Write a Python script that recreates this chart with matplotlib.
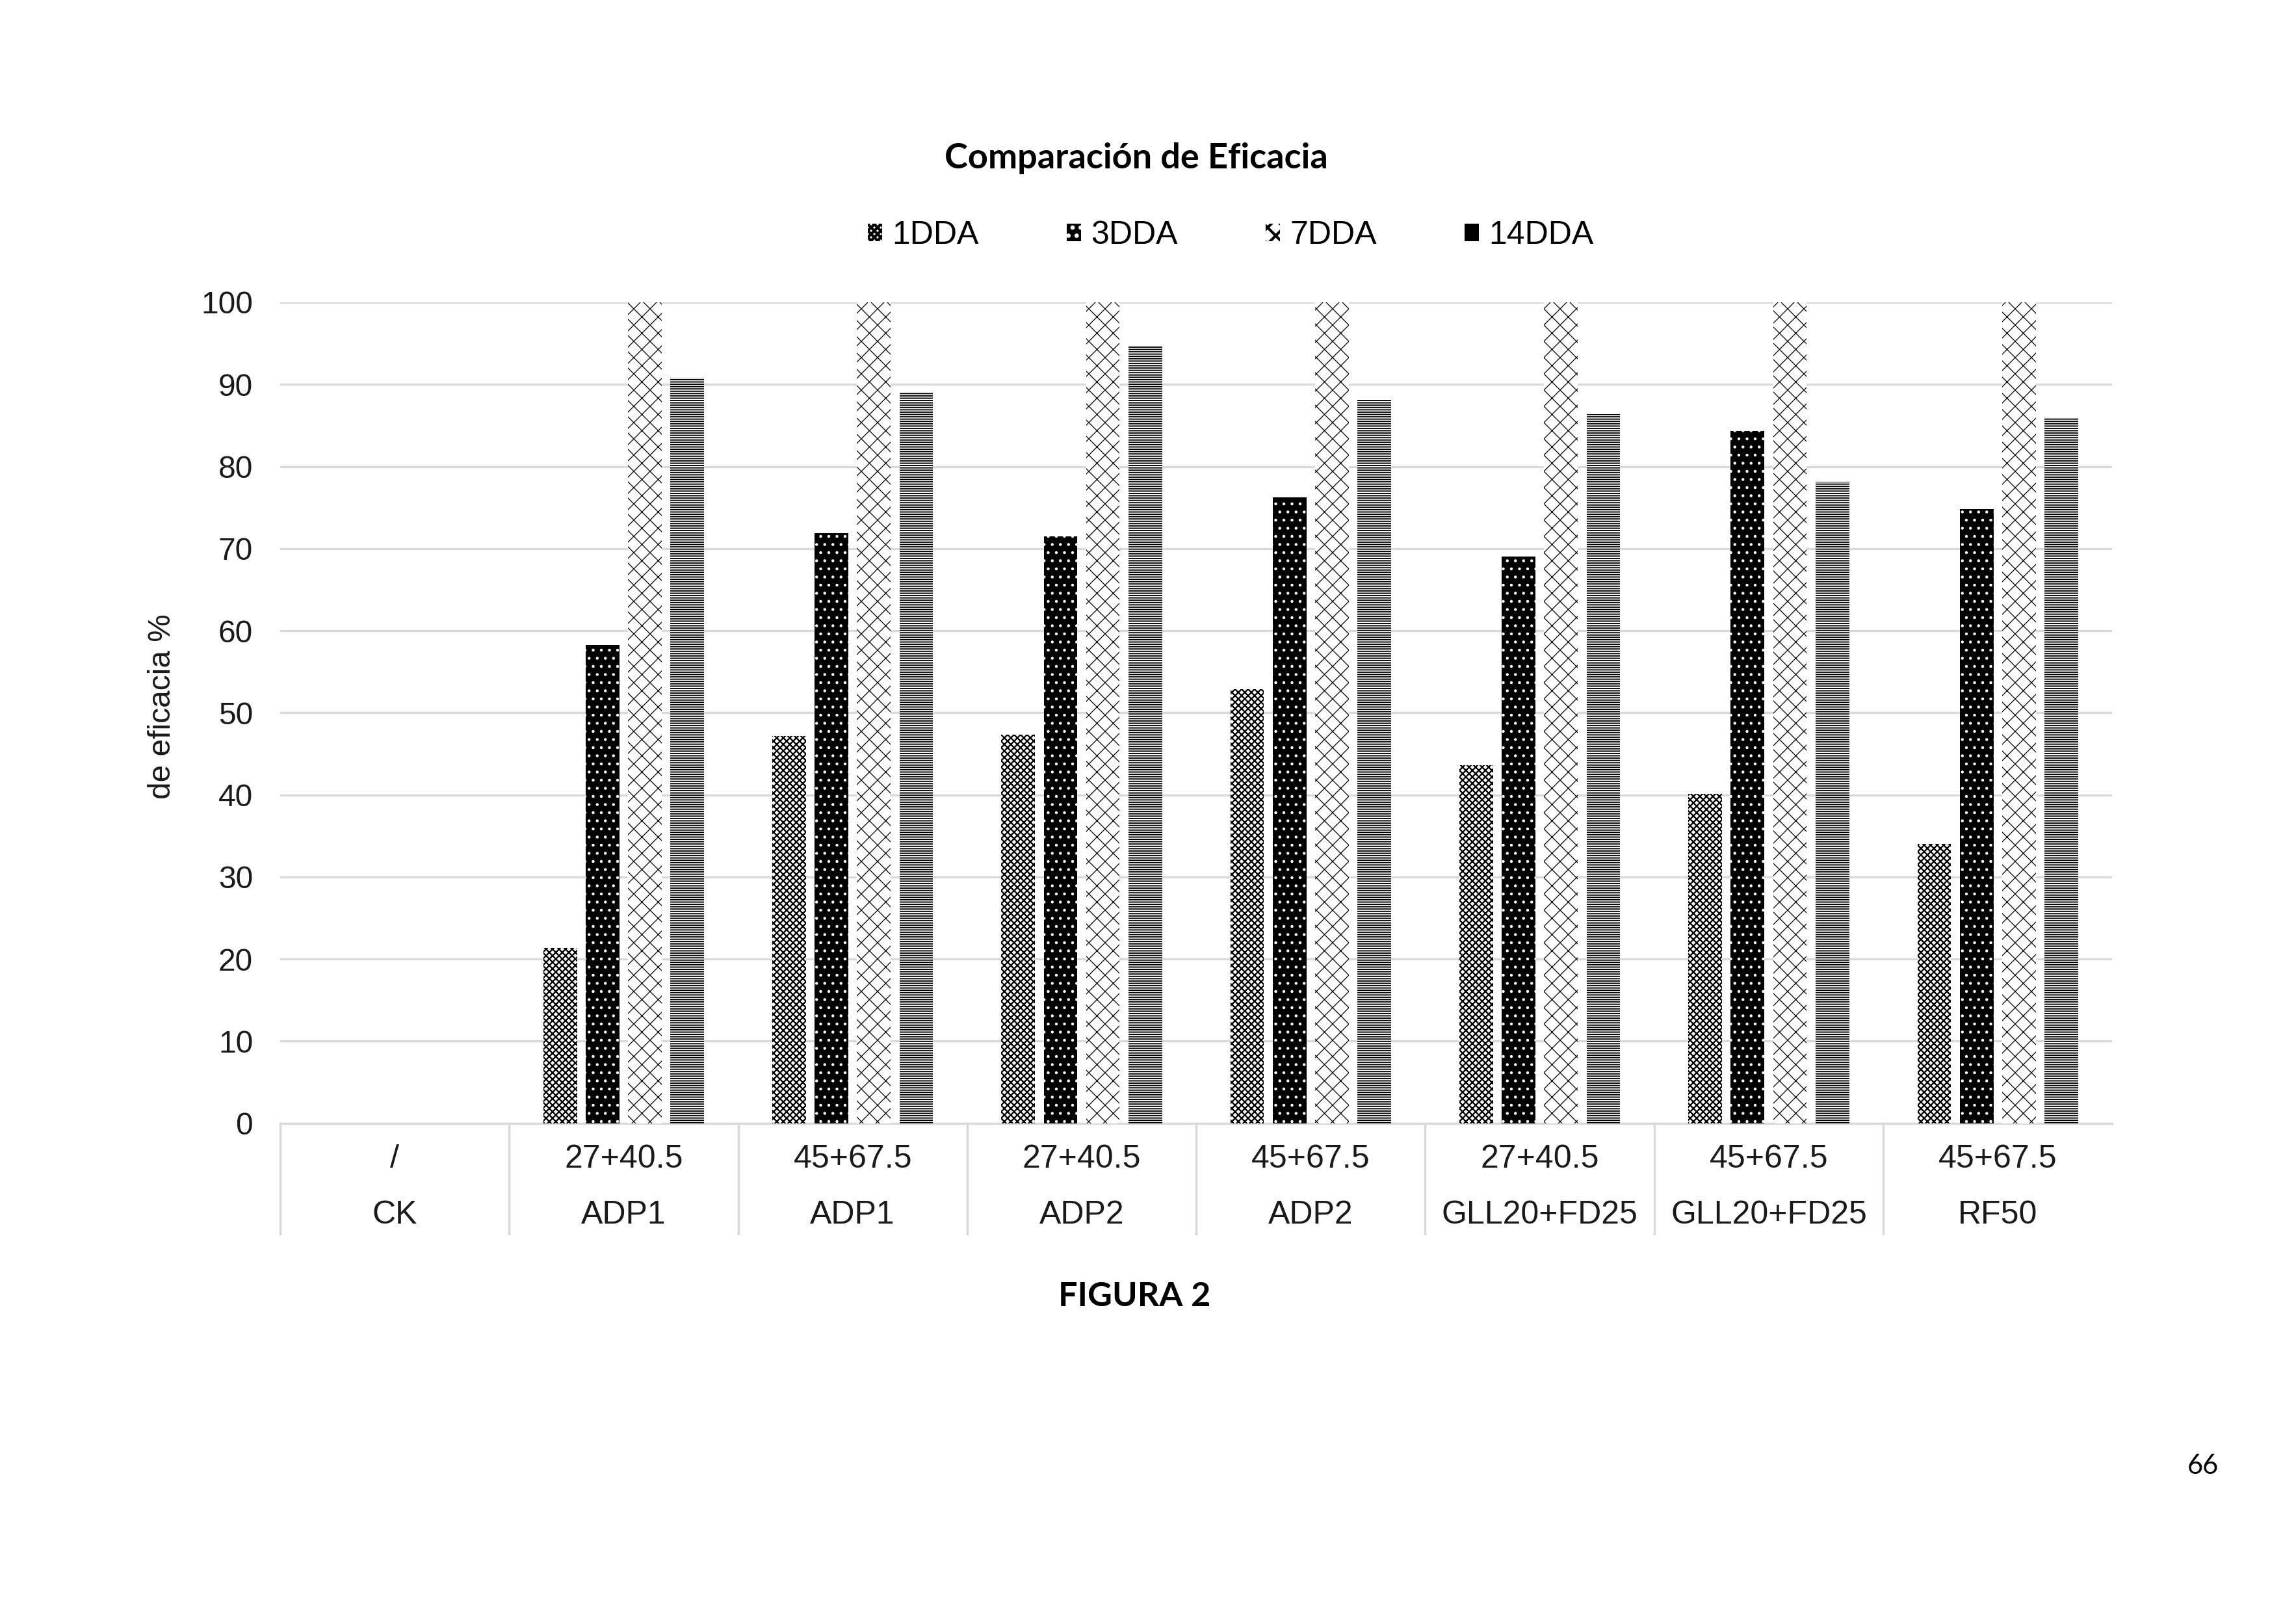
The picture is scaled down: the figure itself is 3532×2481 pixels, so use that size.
import matplotlib.pyplot as plt
import matplotlib.transforms as mtransforms
import numpy as np

# datos (eficacia %)
productos = ["CK", "ADP1", "ADP1", "ADP2", "ADP2", "GLL20+FD25", "GLL20+FD25", "RF50"]
dosis = ["/", "27+40.5", "45+67.5", "27+40.5", "45+67.5", "27+40.5", "45+67.5", "45+67.5"]
series = ["1DDA", "3DDA", "7DDA", "14DDA"]
dda_1 = [0, 21.4, 47.2, 47.3, 52.9, 43.6, 40.1, 34.0]
dda_3 = [0, 58.3, 71.9, 71.5, 76.2, 69.0, 84.3, 74.8]
dda_7 = [0, 100, 100, 100, 100, 100, 100, 100]
dda_14 = [0, 90.8, 89.1, 94.6, 88.1, 86.4, 78.1, 86.0]
valores = [dda_1, dda_3, dda_7, dda_14]

# estilo de cada serie: (relleno, color de trama, trama, grosor de trama)
estilos = [
    ("white", "black", "x" * 10, 0.55),
    ("black", "white", "....", 0.45),
    ("white", "black", "xxxx", 0.3),
    ("white", "black", "-" * 14, 0.45),
]

grid_col = "#D9D9D9"
txt_col = "#1a1a1a"
arial = ["Liberation Sans", "DejaVu Sans"]

fig = plt.figure(figsize=(3532 / 300, 2481 / 300), dpi=300)
ax = fig.add_axes([0.122, 0.3036, 0.798, 0.509])

x = np.arange(len(productos))
paso = 0.185
ancho = 0.147
barras = []
for k, (vals, (fc, hc, hatch, hlw)) in enumerate(zip(valores, estilos)):
    with plt.rc_context({"hatch.linewidth": hlw}):
        b = ax.bar(x + (k - 1.5) * paso, vals, width=ancho, color=fc,
                   edgecolor=hc, hatch=hatch, linewidth=0, label=series[k], zorder=3)
    barras.append(b)

ax.set_xlim(-0.5, len(productos) - 0.5)
ax.set_ylim(0, 100)
ax.set_yticks(np.arange(0, 101, 10))
ax.yaxis.grid(True, color=grid_col, linewidth=0.8, zorder=0)
ax.set_axisbelow(True)
for s in ["top", "right", "left"]:
    ax.spines[s].set_visible(False)
ax.spines["bottom"].set_color(grid_col)
ax.spines["bottom"].set_linewidth(0.8)
ax.set_xticks([])
ax.tick_params(axis="y", length=0, pad=10, labelsize=11.5, labelcolor=txt_col)
for lab in ax.get_yticklabels():
    lab.set_fontfamily(arial)

# eje de categorias en dos niveles
trans = mtransforms.blended_transform_factory(ax.transData, ax.transAxes)
for i in range(len(productos)):
    ax.text(x[i], -0.044, dosis[i], transform=trans, ha="center", va="center",
            fontsize=12, family=arial, color=txt_col)
    ax.text(x[i], -0.112, productos[i], transform=trans, ha="center", va="center",
            fontsize=12, family=arial, color=txt_col)
for i in range(len(productos)):
    ax.plot([i - 0.5, i - 0.5], [0, -0.135], transform=trans, color=grid_col,
            linewidth=0.8, clip_on=False)

fig.text(0.0705, 0.562, "de eficacia %", rotation=90, ha="center", va="center",
         fontsize=11.5, family=arial, color=txt_col)

fig.text(0.495, 0.902, "Comparación de Eficacia", ha="center", va="center",
         fontsize=13, fontweight="bold", family=["Lato", "DejaVu Sans"])

leg = fig.legend(handles=barras, labels=series, loc="center", bbox_to_anchor=(0.536, 0.854),
                 ncol=4, frameon=False, handlelength=0.45, handleheight=0.45,
                 handletextpad=0.3, columnspacing=2.7, prop={"family": arial, "size": 12})

fig.text(0.494, 0.196, "FIGURA 2", ha="center", va="center",
         fontsize=12.5, fontweight="bold", family=["Lato", "DejaVu Sans"])
fig.text(0.9595, 0.091, "66", ha="center", va="center", fontsize=10,
         family=["Lato", "DejaVu Sans"])

fig.savefig("out.png", dpi=300, facecolor="white")
